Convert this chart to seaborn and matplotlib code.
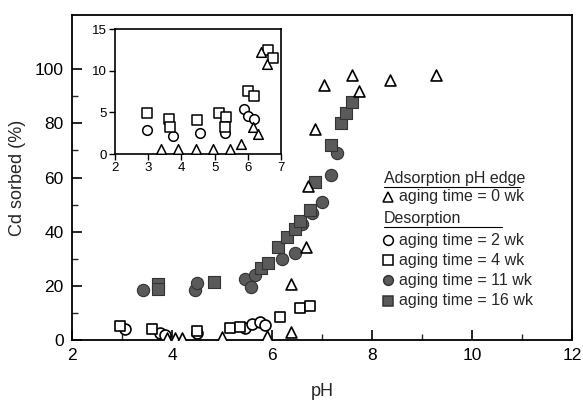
import numpy as np
import pandas as pd
import matplotlib
matplotlib.use("Agg")
import matplotlib.pyplot as plt
import seaborn as sns

# ---------------- data ----------------
# Main panel
ph_0wk = [3.9, 4.05, 4.2, 5.0, 5.9, 6.37, 6.37, 6.67, 6.72, 6.85, 7.03, 7.6, 7.73, 8.37, 9.29]
cd_0wk = [0.8, 0.6, 0.8, 1.2, 1.6, 3.0, 20.5, 34.5, 57.0, 78.0, 94.0, 98.0, 92.0, 96.0, 98.0]

ph_2wk = [3.05, 3.75, 3.85, 4.5, 5.45, 5.6, 5.75, 5.85]
cd_2wk = [4.0, 2.5, 1.8, 2.5, 4.5, 5.8, 6.8, 5.5]

ph_4wk = [2.95, 3.6, 4.5, 5.15, 5.35, 6.15, 6.55, 6.75]
cd_4wk = [5.0, 4.0, 3.5, 4.5, 4.8, 8.5, 12.0, 12.5]

ph_11wk = [3.42, 4.45, 4.5, 5.45, 5.58, 5.65, 6.2, 6.45, 6.6, 6.8, 7.0, 7.17, 7.3]
cd_11wk = [18.5, 18.5, 21.0, 22.5, 19.5, 24.0, 30.0, 32.0, 43.0, 47.0, 51.0, 61.0, 69.0]

ph_16wk = [3.72, 3.72, 4.85, 5.78, 5.92, 6.12, 6.3, 6.45, 6.55, 6.75, 6.85, 7.17, 7.37, 7.48, 7.6]
cd_16wk = [20.5, 18.8, 21.5, 26.5, 28.5, 34.5, 38.0, 41.0, 44.0, 48.0, 58.5, 72.0, 80.0, 84.0, 88.0]

# Inset panel (low-sorption region)
in_ph_0wk = [3.4, 3.9, 4.45, 4.95, 5.45, 5.8, 6.15, 6.3, 6.4, 6.58]
in_cd_0wk = [0.6, 0.6, 0.6, 0.6, 0.6, 1.2, 3.2, 2.4, 12.3, 10.8]

in_ph_2wk = [2.95, 3.75, 4.55, 5.3, 5.9, 6.02, 6.2]
in_cd_2wk = [2.9, 2.2, 2.5, 2.5, 5.4, 4.6, 4.2]

in_ph_4wk = [2.95, 3.62, 3.65, 4.48, 5.12, 5.35, 5.3, 6.02, 6.2, 6.62, 6.75]
in_cd_4wk = [4.9, 4.2, 3.3, 4.1, 4.9, 4.4, 3.3, 7.6, 7.0, 12.5, 11.5]

x_ticks_main = [2, 4, 6, 8, 10, 12]
y_ticks_main = [0, 20, 40, 60, 80, 100]
x_ticks_inset = [2, 3, 4, 5, 6, 7]
y_ticks_inset = [0, 5, 10, 15]

legend_labels = ["aging time = 0 wk", "aging time = 2 wk", "aging time = 4 wk",
                 "aging time = 11 wk", "aging time = 16 wk"]

# ---------------- styling ----------------
sns.set_theme(style="white")
plt.rcParams["font.family"] = ["Liberation Sans", "DejaVu Sans"]

FILL = "#5a5a5a"
EDGE = "#333333"

def df(x, y):
    return pd.DataFrame({"pH": x, "cd": y})

fig = plt.figure(figsize=(5.83, 4.03), dpi=100)
W, H = 583, 403
ax = fig.add_axes([72 / W, 1 - 340 / H, (572 - 72) / W, (340 - 15) / H])

open_kw = dict(facecolor="white", edgecolor="black", linewidth=1.2, s=62, zorder=3)
fill_kw = dict(color=FILL, edgecolor=EDGE, linewidth=0.8, s=78, zorder=2)

sns.scatterplot(data=df(ph_11wk, cd_11wk), x="pH", y="cd", marker="o", ax=ax, **fill_kw)
sns.scatterplot(data=df(ph_16wk, cd_16wk), x="pH", y="cd", marker="s", ax=ax, **fill_kw)
sns.scatterplot(data=df(ph_2wk, cd_2wk), x="pH", y="cd", marker="o", ax=ax, **open_kw)
sns.scatterplot(data=df(ph_4wk, cd_4wk), x="pH", y="cd", marker="s", ax=ax, **open_kw)
sns.scatterplot(data=df(ph_0wk, cd_0wk), x="pH", y="cd", marker="^", ax=ax, **open_kw)

ax.set_xlim(2, 12)
ax.set_ylim(0, 120)
ax.set_xticks(x_ticks_main)
ax.set_yticks(y_ticks_main)
ax.set_xticks(np.arange(3, 12, 1), minor=True)
ax.set_yticks(np.arange(10, 110, 20), minor=True)
ax.tick_params(axis="both", which="major", direction="in", length=7, width=1.2,
               labelsize=12.5, colors="black", bottom=True, left=True, pad=6)
ax.tick_params(axis="both", which="minor", direction="in", length=4, width=1.0,
               bottom=True, left=True)
for sp in ax.spines.values():
    sp.set_color("black")
    sp.set_linewidth(1.3)
ax.set_xlabel("pH", fontsize=13, labelpad=14)
ax.set_ylabel("Cd sorbed (%)", fontsize=13, labelpad=6)

# ---------------- legend (manual, in axes coords) ----------------
lx_mark = 0.632
lx_text = 0.654
fs = 11.5
def yax(py):
    return (340 - py) / 325

ax.text(lx_mark - 0.008, yax(178), "Adsorption pH edge", transform=ax.transAxes,
        fontsize=fs, va="center", ha="left")
ax.plot([lx_mark - 0.008, 0.896], [yax(186.5), yax(186.5)], transform=ax.transAxes,
        color="black", lw=0.8)
ax.text(lx_mark - 0.008, yax(218), "Desorption", transform=ax.transAxes,
        fontsize=fs, va="center", ha="left")
ax.plot([lx_mark - 0.008, 0.86], [yax(226.5), yax(226.5)], transform=ax.transAxes,
        color="black", lw=0.8)

entries = [
    ("^", "white", "black", 197),
    ("o", "white", "black", 240),
    ("s", "white", "black", 260),
    ("o", FILL, EDGE, 280),
    ("s", FILL, EDGE, 301),
]
for (m, fc, ec, py), lab in zip(entries, legend_labels):
    ax.plot([lx_mark], [yax(py)], marker=m, markersize=7, markerfacecolor=fc,
            markeredgecolor=ec, markeredgewidth=1.1, transform=ax.transAxes,
            linestyle="none", clip_on=False)
    ax.text(lx_text, yax(py), lab, transform=ax.transAxes, fontsize=fs,
            va="center", ha="left")

# ---------------- inset ----------------
ins = fig.add_axes([115 / W, 1 - 154 / H, (281 - 115) / W, (154 - 29) / H])
ins_kw = dict(facecolor="white", edgecolor="black", linewidth=1.1, s=48, zorder=3)
sns.scatterplot(data=df(in_ph_2wk, in_cd_2wk), x="pH", y="cd", marker="o", ax=ins, **ins_kw)
sns.scatterplot(data=df(in_ph_4wk, in_cd_4wk), x="pH", y="cd", marker="s", ax=ins, **ins_kw)
sns.scatterplot(data=df(in_ph_0wk, in_cd_0wk), x="pH", y="cd", marker="^", ax=ins, **ins_kw)
ins.set_xlim(2, 7)
ins.set_ylim(0, 15)
ins.set_xticks(x_ticks_inset)
ins.set_yticks(y_ticks_inset)
ins.tick_params(axis="both", direction="out", length=4, width=1.0, labelsize=9.5,
                colors="black", bottom=True, left=True, pad=2)
for sp in ins.spines.values():
    sp.set_color("black")
    sp.set_linewidth(1.2)
ins.set_xlabel("")
ins.set_ylabel("")

fig.savefig("out.png", dpi=100)
